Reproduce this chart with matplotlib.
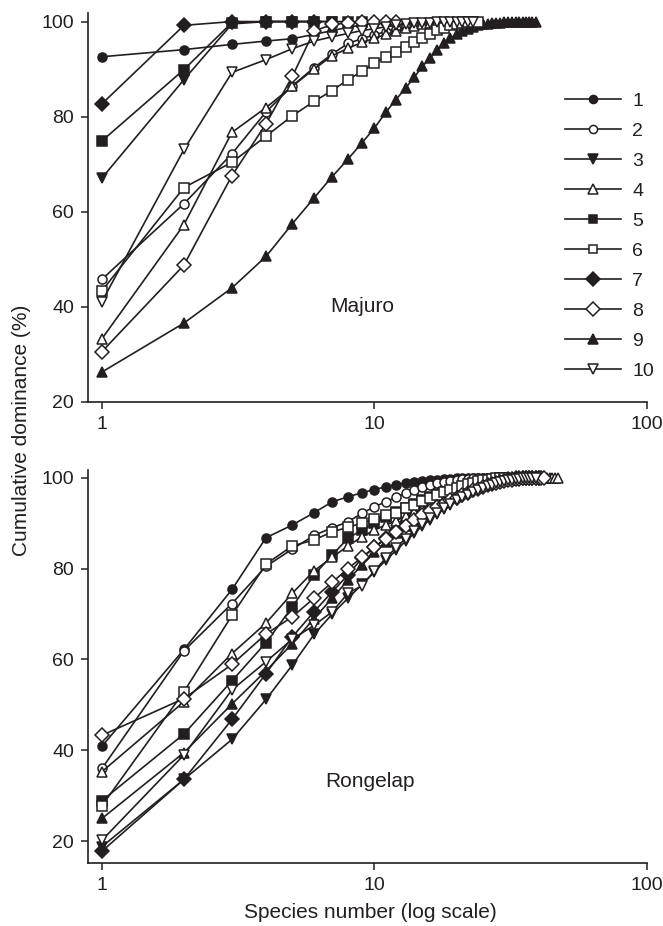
import numpy as np
import matplotlib
matplotlib.use("Agg")
import matplotlib.pyplot as plt
from matplotlib.ticker import FixedLocator, NullLocator, FixedFormatter

plt.rcParams['font.family'] = ['Liberation Sans', 'DejaVu Sans']

INK = '#231f20'

labels = ['1', '2', '3', '4', '5', '6', '7', '8', '9', '10']
markers = ['o', 'o', 'v', '^', 's', 's', 'D', 'D', '^', 'v']
filled = [True, False, True, False, True, False, True, False, True, False]

# Majuro: cumulative dominance (%) by species rank
majuro = [
    [92.6, 94.1, 95.2, 95.9, 96.4, 97.3, 98.1, 98.8, 99.3, 99.7, 100],
    [45.8, 61.7, 72.2, 81.0, 86.5, 90.3, 93.2, 95.4, 96.4, 97.2, 97.9, 98.5, 99.0, 99.4, 99.7, 100],
    [67.1, 87.8, 99.5, 100, 100, 100, 100],
    [33.3, 57.3, 76.7, 81.9, 86.4, 90.0, 92.8, 94.4, 95.6, 96.5, 97.3, 98.0, 98.6, 99.0, 99.4, 99.7, 100],
    [74.9, 89.9, 99.8, 100, 100, 100, 100, 100, 100],
    [43.4, 65.1, 70.4, 75.9, 80.2, 83.2, 85.5, 87.8, 89.5, 91.3, 92.5, 93.7, 94.6, 95.7,
     96.5, 97.4, 98.2, 98.7, 99.2, 99.5, 99.7, 99.85, 99.95, 100],
    [82.7, 99.2, 100, 100, 100, 100],
    [30.6, 48.8, 67.6, 78.5, 88.5, 98.0, 99.4, 99.7, 99.9, 100, 100, 100],
    [26.3, 36.6, 44.0, 50.6, 57.5, 62.9, 67.4, 71.1, 74.5, 77.6, 80.9, 83.6, 86.0, 88.3,
     90.6, 92.3, 94.1, 95.5, 96.5, 97.3, 98.0, 98.5, 98.9, 99.2, 99.4, 99.55, 99.65, 99.72,
     99.78, 99.83, 99.87, 99.9, 99.93, 99.95, 99.97, 99.98, 99.99, 100, 100],
    [41.1, 73.1, 89.3, 92.0, 94.3, 95.9, 96.8, 97.5, 98.1, 98.5, 98.9, 99.2, 99.4, 99.6,
     99.7, 99.8, 99.85, 99.9, 99.95, 100, 100, 100, 100],
]

# Rongelap: cumulative dominance (%) by species rank
rongelap = [
    [40.9, 62.2, 75.4, 86.8, 89.6, 92.3, 94.7, 95.8, 96.7, 97.4, 98.0, 98.4, 98.8, 99.1,
     99.3, 99.5, 99.6, 99.7, 99.8, 99.85, 99.9, 99.93, 99.96, 99.98, 100, 100, 100],
    [36.0, 61.9, 72.3, 80.5, 84.3, 87.3, 89.0, 90.3, 92.2, 93.6, 94.7, 95.7, 96.6, 97.3,
     97.9, 98.4, 98.8, 99.1, 99.35, 99.55, 99.7, 99.8, 99.88, 99.94, 99.97, 100, 100, 100],
    [18.8, 33.6, 42.4, 51.2, 58.8, 65.5, 70.0, 73.5, 76.5, 79.3, 81.8, 84.0, 86.0, 87.8,
     89.4, 90.8, 92.0, 93.1, 94.1, 95.0, 95.8, 96.5, 97.1, 97.6, 98.0, 98.4, 98.7, 99.0,
     99.2, 99.4, 99.55, 99.7, 99.8, 99.88, 99.94, 99.98, 100],
    [35.3, 50.7, 61.3, 68.0, 74.6, 79.5, 82.5, 85.0, 87.0, 88.5, 89.6, 90.5, 91.5, 92.4,
     93.2, 94.0, 94.7, 95.3, 95.9, 96.4, 96.9, 97.3, 97.7, 98.0, 98.3, 98.6, 98.8, 99.0,
     99.2, 99.35, 99.5, 99.6, 99.7, 99.75, 99.8, 99.85, 99.88, 99.9, 99.92, 99.94, 99.96,
     99.97, 99.98, 99.99, 100, 100, 100],
    [28.9, 43.6, 55.3, 63.7, 71.6, 78.6, 83.0, 86.7, 88.5, 90.0, 91.3, 92.4, 93.4, 94.3,
     95.1, 95.8, 96.4, 97.0, 97.5, 97.9, 98.3, 98.6, 98.9, 99.1, 99.3, 99.5, 99.65, 99.8,
     99.9, 100],
    [27.8, 52.9, 69.7, 81.0, 85.0, 86.3, 88.1, 89.1, 90.0, 90.9, 91.8, 92.3, 93.3, 94.0,
     94.8, 95.5, 96.2, 96.8, 97.3, 97.8, 98.2, 98.6, 98.9, 99.2, 99.4, 99.6, 99.75, 99.85,
     99.95, 100],
    [17.8, 33.6, 46.8, 56.9, 65.0, 70.5, 74.9, 78.6, 82.3, 84.7, 86.8, 88.5, 90.0, 91.3,
     92.5, 93.5, 94.4, 95.2, 95.9, 96.5, 97.0, 97.5, 97.9, 98.3, 98.6, 98.9, 99.1, 99.3,
     99.5, 99.6, 99.7, 99.8, 99.85, 99.9, 99.94, 99.97, 99.99, 100, 100, 100],
    [43.3, 51.4, 58.9, 65.6, 69.4, 73.5, 77.0, 80.0, 82.5, 84.7, 86.5, 88.0, 89.4, 90.6,
     91.7, 92.6, 93.5, 94.3, 95.0, 95.6, 96.2, 96.7, 97.2, 97.6, 98.0, 98.3, 98.6, 98.9,
     99.1, 99.3, 99.45, 99.6, 99.7, 99.8, 99.85, 99.9, 99.93, 99.96, 99.98, 99.99, 100, 100],
    [25.0, 39.5, 50.2, 57.5, 63.5, 69.0, 73.5, 77.5, 80.8, 83.6, 85.9, 87.8, 89.4, 90.8,
     92.0, 93.1, 94.1, 95.0, 95.8, 96.5, 97.1, 97.6, 98.0, 98.4, 98.7, 99.0, 99.2, 99.4,
     99.55, 99.7, 99.8, 99.88, 99.94, 99.98, 100],
    [20.2, 39.0, 53.3, 59.5, 64.5, 67.5, 70.5, 74.6, 76.2, 79.5, 82.3, 84.6, 86.6, 88.3,
     89.8, 91.1, 92.3, 93.3, 94.2, 95.0, 95.7, 96.3, 96.9, 97.4, 97.8, 98.2, 98.5, 98.8,
     99.05, 99.25, 99.45, 99.6, 99.7, 99.8, 99.87, 99.93, 99.97, 100, 100],
]

xticks = [1, 10, 100]
yticks = [20, 40, 60, 80, 100]

W, H = 663, 926
fig = plt.figure(figsize=(W / 100, H / 100), dpi=100)

def px_axes(left, top, right, bottom):
    return fig.add_axes([left / W, 1 - bottom / H, (right - left) / W, (bottom - top) / H])

ax1 = px_axes(88, 13, 647, 402)
ax2 = px_axes(88, 470, 647, 863)


def draw(ax, data, ylim):
    for i, vals in enumerate(data):
        x = np.arange(1, len(vals) + 1)
        ms = 6.5 if markers[i] in ('o', 's') else 7.5
        ax.plot(x, vals, color=INK, lw=1.2, marker=markers[i], ms=ms,
                mfc=INK if filled[i] else 'white', mec=INK, mew=1.1,
                label=labels[i], zorder=3 + (0 if filled[i] else 1))
    ax.set_xscale('log')
    ax.set_xlim(0.889, 100)
    ax.set_ylim(*ylim)
    ax.xaxis.set_major_locator(FixedLocator(xticks))
    ax.xaxis.set_major_formatter(FixedFormatter([str(t) for t in xticks]))
    ax.xaxis.set_minor_locator(NullLocator())
    ax.set_yticks(yticks)
    for s in ('top', 'right'):
        ax.spines[s].set_visible(False)
    for s in ('left', 'bottom'):
        ax.spines[s].set_color(INK)
        ax.spines[s].set_linewidth(1.2)
    ax.tick_params(direction='out', length=5, width=1.1, color=INK,
                   labelsize=14, labelcolor=INK, pad=5)


draw(ax1, majuro, (20, 101.8))
draw(ax2, rongelap, (15.2, 101.7))

ax1.text(9.0, 40, 'Majuro', fontsize=15, color=INK, ha='center', va='center')
ax2.text(9.6, 33.1, 'Rongelap', fontsize=15, color=INK, ha='center', va='center')

leg = ax1.legend(loc='upper left', bbox_to_anchor=((565 - 88) / 559, (402 - 92) / 389),
                 frameon=False, fontsize=14, handlelength=2.9, handletextpad=0.55,
                 labelspacing=0.64, borderpad=0, borderaxespad=0, markerscale=0.9)
for t in leg.get_texts():
    t.set_color(INK)

fig.text(22 / W, 1 - 430 / H, 'Cumulative dominance (%)', rotation=90,
         ha='center', va='center', fontsize=15, color=INK)
fig.text(370 / W, 1 - 912 / H, 'Species number (log scale)',
         ha='center', va='center', fontsize=15, color=INK)

fig.savefig('out.png', dpi=100)
